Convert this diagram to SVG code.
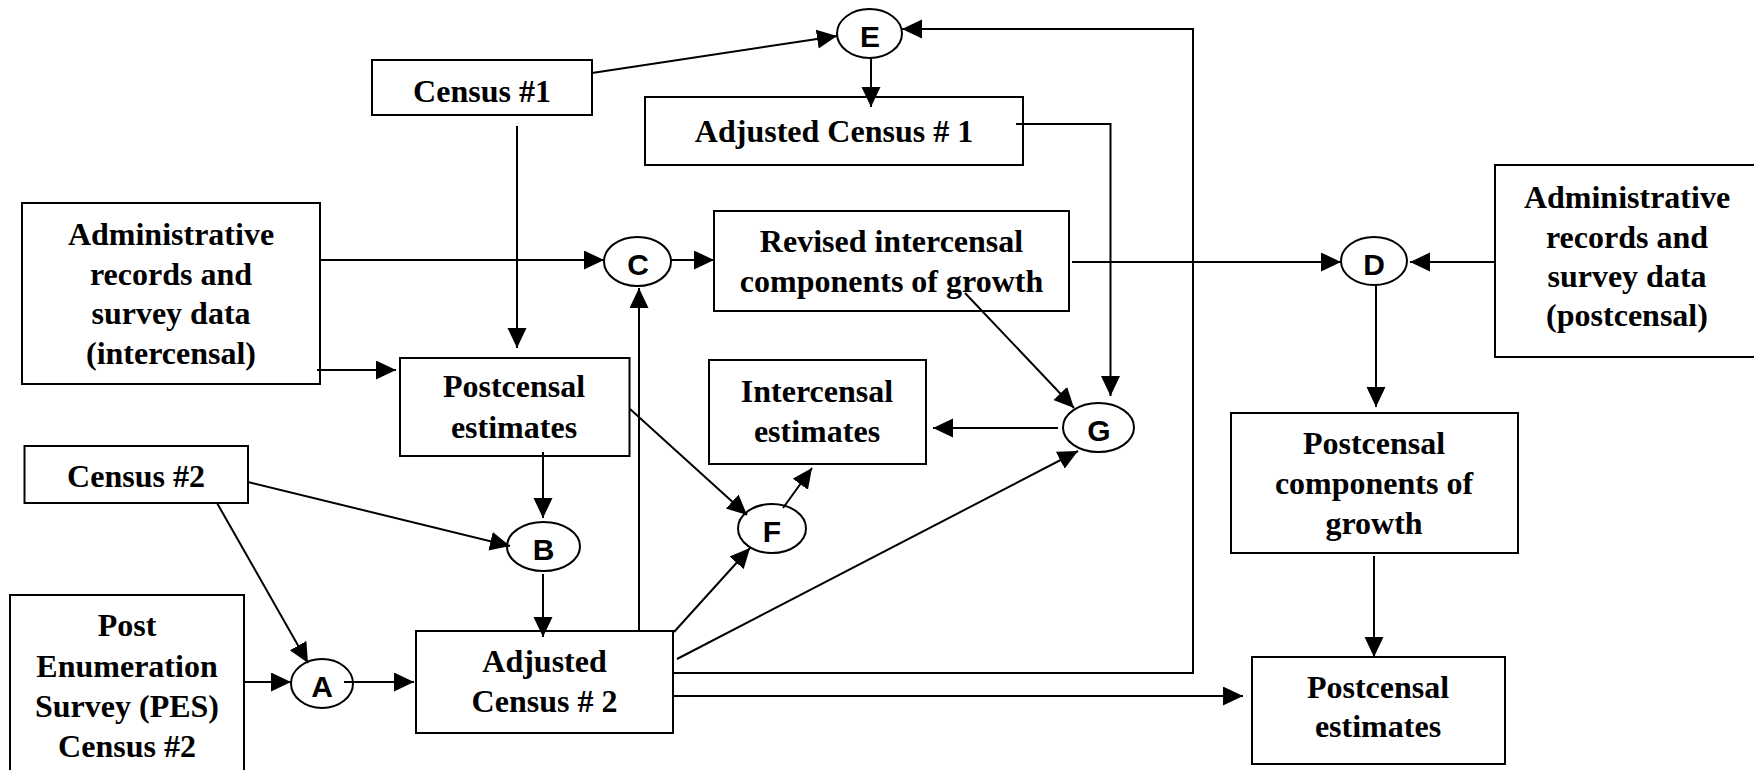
<svg xmlns="http://www.w3.org/2000/svg" width="1754" height="770" viewBox="0 0 1754 770">
<style>
.box{fill:#fff;stroke:#000;stroke-width:2}
.ell{fill:#fff;stroke:#000;stroke-width:2}
.t{font-family:"Liberation Serif","Times New Roman",serif;font-weight:bold;font-size:32px;text-anchor:middle;fill:#000}
.l{font-family:"Liberation Sans",Arial,sans-serif;font-weight:bold;font-size:30px;text-anchor:middle;fill:#000}
.c{fill:none;stroke:#000;stroke-width:2;marker-end:url(#ah)}
.n{fill:none;stroke:#000;stroke-width:2}
</style>
<defs>
<marker id="ah" markerUnits="userSpaceOnUse" markerWidth="20" markerHeight="20" refX="20" refY="9.5" orient="auto">
<path d="M0,0 L20,9.5 L0,19 Z" fill="#000"/>
</marker>
</defs>
<rect width="1754" height="770" fill="#fff"/>
<g id="nodes">
<g id="census1"><rect class="box" x="372" y="60" width="220" height="55"/><text class="t" x="482" y="102">Census #1</text></g>
<g id="adjcensus1"><rect class="box" x="645" y="97" width="378" height="68"/><text class="t" x="834" y="142">Adjusted Census # 1</text></g>
<g id="adminint"><rect class="box" x="22" y="203" width="298" height="181"/><text class="t" x="171" y="245">Administrative</text><text class="t" x="171" y="284.5">records and</text><text class="t" x="171" y="324">survey data</text><text class="t" x="171" y="363.5">(intercensal)</text></g>
<g id="revised"><rect class="box" x="714" y="211" width="355" height="100"/><text class="t" x="891.5" y="252">Revised intercensal</text><text class="t" x="891.5" y="292">components of growth</text></g>
<g id="adminpost"><rect class="box" x="1495" y="165" width="264" height="192"/><text class="t" x="1627" y="208">Administrative</text><text class="t" x="1627" y="247.5">records and</text><text class="t" x="1627" y="287">survey data</text><text class="t" x="1627" y="326">(postcensal)</text></g>
<g id="postest1"><rect class="box" x="400" y="358" width="229.5" height="98"/><text class="t" x="514" y="397">Postcensal</text><text class="t" x="514" y="438">estimates</text></g>
<g id="interest"><rect class="box" x="709" y="360" width="217" height="104"/><text class="t" x="817" y="402">Intercensal</text><text class="t" x="817" y="442">estimates</text></g>
<g id="census2"><rect class="box" x="24.5" y="446" width="223.5" height="57"/><text class="t" x="136" y="487">Census #2</text></g>
<g id="pes"><rect class="box" x="10" y="595" width="234" height="185"/><text class="t" x="127" y="636">Post</text><text class="t" x="127" y="676.5">Enumeration</text><text class="t" x="127" y="716.5">Survey (PES)</text><text class="t" x="127" y="756.5">Census #2</text></g>
<g id="adjcensus2"><rect class="box" x="416" y="631" width="257" height="102"/><text class="t" x="544.5" y="672">Adjusted</text><text class="t" x="544.5" y="712">Census # 2</text></g>
<g id="postcomp"><rect class="box" x="1231" y="413" width="287" height="140"/><text class="t" x="1374" y="454">Postcensal</text><text class="t" x="1374" y="494">components of</text><text class="t" x="1374" y="534">growth</text></g>
<g id="postest2"><rect class="box" x="1252" y="657" width="253" height="107"/><text class="t" x="1378" y="698">Postcensal</text><text class="t" x="1378" y="737">estimates</text></g>
<g id="E"><ellipse class="ell" cx="869.5" cy="33.5" rx="32.5" ry="24.5"/><text class="l" x="870" y="47">E</text></g>
<g id="C"><ellipse class="ell" cx="637.5" cy="261.5" rx="33.5" ry="24.5"/><text class="l" x="638" y="275">C</text></g>
<g id="D"><ellipse class="ell" cx="1374" cy="261" rx="33" ry="24"/><text class="l" x="1374" y="275">D</text></g>
<g id="G"><ellipse class="ell" cx="1098.5" cy="427.5" rx="35.5" ry="24.5"/><text class="l" x="1099" y="441">G</text></g>
<g id="F"><ellipse class="ell" cx="772" cy="528.5" rx="34" ry="24.5"/><text class="l" x="772" y="542">F</text></g>
<g id="B"><ellipse class="ell" cx="543.5" cy="546.5" rx="36.5" ry="24.5"/><text class="l" x="543.5" y="560">B</text></g>
<g id="A"><ellipse class="ell" cx="322" cy="683.5" rx="31" ry="24.5"/><text class="l" x="322" y="697">A</text></g>
</g>
<g id="connectors">
<line class="c" x1="592" y1="73" x2="837" y2="36"/>
<line class="c" x1="871" y1="58" x2="871" y2="107"/>
<polyline class="c" points="673,673 1193,673 1193,29 902,29"/>
<polyline class="c" points="1016,124 1110.5,124 1110.5,396"/>
<line class="c" x1="320" y1="260" x2="604" y2="260"/>
<line class="c" x1="671" y1="260" x2="714" y2="260"/>
<line class="c" x1="1072" y1="262" x2="1341" y2="262"/>
<line class="c" x1="1495" y1="262" x2="1410" y2="262"/>
<line class="c" x1="1376" y1="285" x2="1376" y2="407"/>
<line class="c" x1="1374" y1="556" x2="1374" y2="657"/>
<line class="c" x1="673" y1="696" x2="1243" y2="696"/>
<line class="c" x1="517" y1="126" x2="517" y2="348"/>
<line class="c" x1="317" y1="370" x2="396" y2="370"/>
<line class="c" x1="543" y1="452" x2="543" y2="518"/>
<line class="c" x1="248" y1="482" x2="510" y2="546"/>
<line class="c" x1="217" y1="503" x2="308" y2="663"/>
<line class="c" x1="244" y1="682" x2="291" y2="682"/>
<line class="c" x1="344" y1="682" x2="414" y2="682"/>
<line class="c" x1="543" y1="574" x2="543" y2="637"/>
<line class="c" x1="639" y1="632" x2="639" y2="288"/>
<line class="c" x1="630" y1="409" x2="747" y2="515"/>
<line class="c" x1="674" y1="632" x2="750" y2="548"/>
<line class="c" x1="783" y1="508" x2="812" y2="468"/>
<line class="c" x1="677" y1="659" x2="1078" y2="451"/>
<line class="c" x1="965" y1="293" x2="1074" y2="408"/>
<line class="c" x1="1058" y1="428" x2="933" y2="428"/>
</g>
</svg>
